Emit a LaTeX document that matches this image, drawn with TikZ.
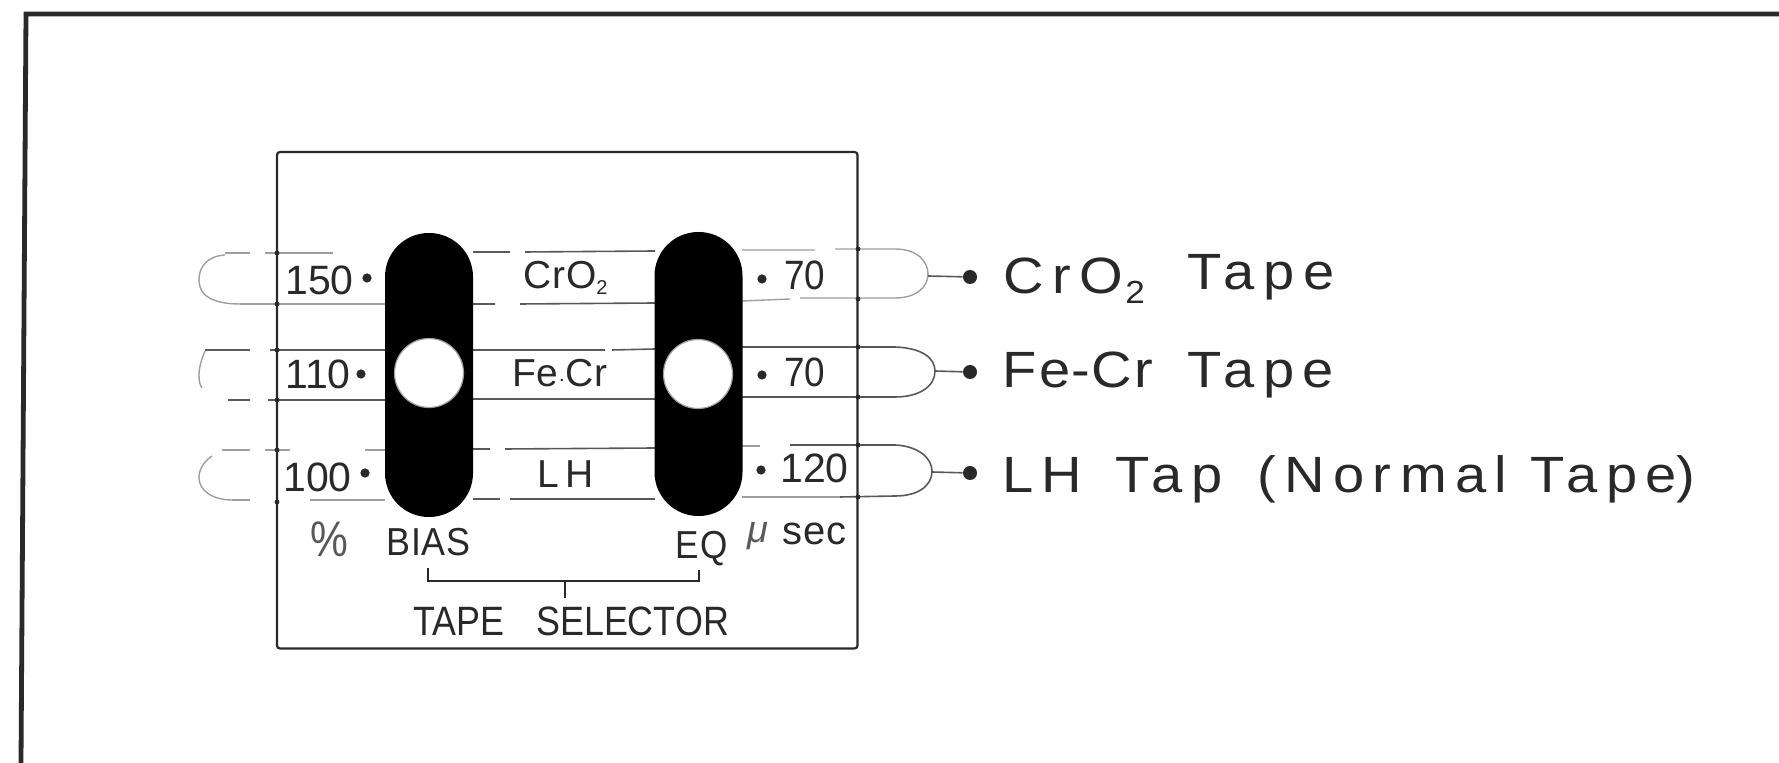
\documentclass[tikz,border=0pt]{standalone}
\usepackage{graphicx}
\usepackage{fontspec}
\setmainfont{Liberation Sans}
\newfontfamily\panelfont[LetterSpace=2]{Liberation Sans}
\newfontfamily\bigfont[LetterSpace=15]{Liberation Sans}
\definecolor{ink}{gray}{0.16}
\definecolor{mid}{gray}{0.35}
\definecolor{faint}{gray}{0.62}
\newcommand{\wordbox}[2]{\makebox[#1][l]{#2}}
\tikzset{
  x=0.5pt,y=-0.5pt,
  frameline/.style={draw=ink,line width=2.4pt},
  boxline/.style={draw=ink,line width=1.1pt},
  rowline/.style={draw=mid,line width=0.8pt},
  fadeline/.style={draw=faint,line width=0.7pt},
  knob/.style={rectangle,fill=black,draw=none,minimum width=44pt,minimum height=142pt,rounded corners=21.9pt,inner sep=0},
  hole/.style={circle,fill=white,draw=faint,line width=0.6pt,minimum size=34.5pt,inner sep=0},
  pip/.style={circle,fill=ink,draw=none,minimum size=4.6pt,inner sep=0},
  bigpip/.style={circle,fill=ink,draw=none,minimum size=7pt,inner sep=0},
  tick/.style={circle,fill=ink,draw=none,minimum size=2.4pt,inner sep=0},
  paneltxt/.style={anchor=base west,inner sep=0,text=ink,font=\fontsize{19.5}{22}\panelfont},
  numtxt/.style={anchor=base west,inner sep=0,text=ink,font=\fontsize{20.5}{22}\selectfont},
  bigtxt/.style={anchor=base west,inner sep=0,text=ink,font=\fontsize{25.5}{28}\bigfont},
}
\begin{document}
\begin{tikzpicture}
\useasboundingbox (0,0) rectangle (1779,763);
% outer frame
\draw[frameline] (21,763) -- (26,14) -- (1779,14);
% row lines, left part
\draw[fadeline] (225,253) -- (250,253) (265,253) -- (333,253);
\draw[fadeline] (240,304) -- (385,304);
\draw[rowline] (205,350) -- (250,350) (270,350) -- (385,350);
\draw[rowline] (228,400) -- (250,400) (268,400) -- (385,400);
\draw[fadeline] (222,450) -- (250,450) (265,450) -- (290,450) (365,450) -- (385,450);
\draw[fadeline] (232,500) -- (250,500) (310,500) -- (385,500);
% left ends
\draw[fadeline] (225,255) .. controls (208,256) and (199,266) .. (199,280) .. controls (199,294) and (210,304) .. (240,304);
\draw[fadeline] (205,351) .. controls (202,358) and (199,367) .. (199,375) .. controls (199,382) and (200,385) .. (202,388);
\draw[fadeline] (212,456) .. controls (203,462) and (199,470) .. (199,478) .. controls (199,490) and (212,500) .. (232,500);
% row lines, middle
\draw[rowline] (473,252) -- (510,252) (525,252) -- (655,251);
\draw[rowline] (473,304) -- (495,304) (520,304) -- (655,303);
\draw[rowline] (473,350) -- (605,350) (612,350) -- (655,349);
\draw[rowline] (473,399) -- (655,399);
\draw[rowline] (473,449) -- (490,449) (505,449) -- (655,448);
\draw[rowline] (473,499) -- (500,499) (510,499) -- (655,499);
% row lines, right part and right ends
\draw[fadeline] (742,250) -- (815,250) (835,249) -- (895,249) .. controls (918,249) and (928,262) .. (928,274) .. controls (928,288) and (915,298) .. (895,298) -- (800,298) (790,299) -- (742,301);
\draw[rowline] (742,347) -- (895,347) .. controls (922,348) and (935,358) .. (935,371) .. controls (935,386) and (920,397) .. (895,397) -- (742,397);
\draw[fadeline] (742,446) -- (760,446);
\draw[rowline] (790,445) -- (895,445) .. controls (918,446) and (932,458) .. (932,471) .. controls (932,486) and (918,496) .. (895,496) -- (840,497);
\draw[fadeline] (840,497) -- (742,497);
% inner box
\draw[boxline,rounded corners=1.5pt] (277,152) rectangle (857.5,648.5);
% crossing ticks
\foreach \n/\px/\py in {a/277/253,b/277/304,c/277/350,d/277/400,e/277/450,f/277/502,g/858/249,h/858/299,i/858/347,j/858/397,k/858/445,l/858/497}
  \node[tick] (t\n) at (\px,\py) {};
% knobs
\node[knob] (bias) at (429,375) {};
\node[knob] (eq) at (698.5,374) {};
\node[hole] (biashole) at (429,373) {};
\node[hole] (eqhole) at (698,374) {};
% pips
\node[pip] (p1) at (367,278) {};
\node[pip] (p2) at (361,374) {};
\node[pip] (p3) at (365,473) {};
\node[pip] (q1) at (762,279) {};
\node[pip] (q2) at (762,375) {};
\node[pip] (q3) at (761,470) {};
% numbers
\node[numtxt] (n150) at (285,295) {150};
\node[numtxt] (n110) at (285,389) {110};
\node[numtxt] (n100) at (283,492) {100};
\node[numtxt] (r70a) at (784,290) {\scalebox{.9}[1]{70}};
\node[numtxt] (r70b) at (784,387) {\scalebox{.9}[1]{70}};
\node[numtxt] (r120) at (780,483) {120};
% centre labels
\node[paneltxt] (lcro) at (523,289) {CrO\raisebox{-3pt}{\fontsize{10}{12}\selectfont 2}};
\node[paneltxt] (lfe) at (512,387) {Fe{\fontsize{12}{12}\selectfont$\cdot$}Cr};
\node[paneltxt] (llh) at (537,488) {L\,H};
% lower labels
\node[anchor=base west,inner sep=0,text=mid,font=\fontsize{25}{28}\selectfont] (pct) at (310,557) {\scalebox{.85}[1]{\%}};
\node[paneltxt] (lbias) at (386,556) {\scalebox{.92}[1]{BIAS}};
\node[paneltxt] (leq) at (675,559) {\scalebox{.9}[1]{E\kern1pt Q}};
\node[anchor=base west,inner sep=0,text=mid,font=\fontsize{19}{20}\selectfont\itshape] (lmu) at (747,543) {μ};
\node[anchor=base west,inner sep=0,text=ink,font=\fontsize{20}{22}\panelfont] (lsec) at (782,545) {sec};
\coordinate (brL) at (428,568);
\coordinate (brR) at (699,570);
\coordinate (brM) at (565,581);
\coordinate (brS) at (565,598);
\draw[boxline] (brL) |- (brM) -| (brR);
\draw[boxline] (brM) -- (brS);
\node[paneltxt,font=\fontsize{20.5}{22}\selectfont] (lsel) at (413,636) {\scalebox{.875}[1]{\wordbox{70.2pt}{TAPE}SELECTOR}};
% right stubs and dots
\coordinate (c1) at (928,276);
\coordinate (c2) at (935,371);
\coordinate (c3) at (932,472);
\node[bigpip] (d1) at (970,277) {};
\node[bigpip] (d2) at (970,372) {};
\node[bigpip] (d3) at (970,473) {};
\draw[rowline] (c1) -- (d1);
\draw[rowline] (c2) -- (d2);
\draw[rowline] (c3) -- (d3);
% right labels
\node[bigtxt] (tcro) at (1003,294) {\scalebox{1.1}[1]{\wordbox{83.6pt}{CrO\kern1pt\raisebox{-5pt}{\fontsize{16}{18}\selectfont 2}}\raisebox{2pt}{Tape}}};
\node[bigtxt] (tfe) at (1002,388) {\scalebox{1.1}[1]{\wordbox{84pt}{F\kern1.1pt e\kern.6pt-\kern.6pt C\kern1.1pt r}Tape}};
\node[bigtxt] (tlh) at (1002,492.5) {\scalebox{1.1}[1]{\wordbox{51.4pt}{LH}\wordbox{64.5pt}{Tap}\wordbox{124pt}{(Normal}Tape\kern0pt)}};
\end{tikzpicture}
\end{document}
